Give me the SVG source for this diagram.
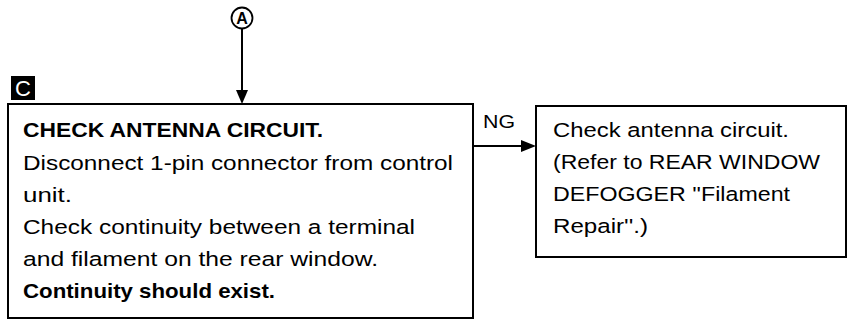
<svg xmlns="http://www.w3.org/2000/svg" width="851" height="322" viewBox="0 0 851 322">
<defs>
<style>
.box{fill:#fff;stroke:#000;stroke-width:2}
.t{font-family:"Liberation Sans",Arial,sans-serif;font-size:20.5px;fill:#000}
.b{font-weight:bold}
.ln{stroke:#000;stroke-width:2;fill:none}
</style>
</defs>
<g id="connectors">
<line class="ln" x1="242" y1="28" x2="242" y2="91"/>
<path d="M236,90 L248,90 L242,104 z" fill="#000"/>
<line class="ln" x1="474" y1="146" x2="522" y2="146"/>
<path d="M521,140 L521,152 L536,146 z" fill="#000"/>
<text class="t" x="483" y="128" style="font-size:18px" textLength="32" lengthAdjust="spacingAndGlyphs">NG</text>
</g>
<g id="ref-a">
<circle cx="242" cy="18" r="10.5" fill="#fff" stroke="#000" stroke-width="1.8"/>
<text class="t b" x="242" y="24" style="font-size:16px" text-anchor="middle">A</text>
</g>
<g id="badge-c">
<rect x="11" y="76" width="24" height="24" fill="#000"/>
<text class="t" x="23" y="96" style="font-size:22px;fill:#fff" text-anchor="middle">C</text>
</g>
<g id="check-antenna">
<rect class="box" x="8" y="104" width="465" height="214"/>
<text class="t b" x="23" y="137" textLength="300" lengthAdjust="spacingAndGlyphs">CHECK ANTENNA CIRCUIT.</text>
<text class="t" x="23" y="169.5" textLength="430" lengthAdjust="spacingAndGlyphs">Disconnect 1-pin connector from control</text>
<text class="t" x="23" y="201.5" textLength="49" lengthAdjust="spacingAndGlyphs">unit.</text>
<text class="t" x="23" y="233.5" textLength="392" lengthAdjust="spacingAndGlyphs">Check continuity between a terminal</text>
<text class="t" x="23" y="266" textLength="355" lengthAdjust="spacingAndGlyphs">and filament on the rear window.</text>
<text class="t b" x="23" y="298" textLength="252" lengthAdjust="spacingAndGlyphs">Continuity should exist.</text>
</g>
<g id="refer-defogger">
<rect class="box" x="536" y="106" width="310" height="151"/>
<text class="t" x="553" y="137" textLength="236" lengthAdjust="spacingAndGlyphs">Check antenna circuit.</text>
<text class="t" x="553" y="169" textLength="267" lengthAdjust="spacingAndGlyphs">(Refer to REAR WINDOW</text>
<text class="t" x="553" y="201" textLength="237" lengthAdjust="spacingAndGlyphs">DEFOGGER ''Filament</text>
<text class="t" x="553" y="233" textLength="95" lengthAdjust="spacingAndGlyphs">Repair''.)</text>
</g>
</svg>
